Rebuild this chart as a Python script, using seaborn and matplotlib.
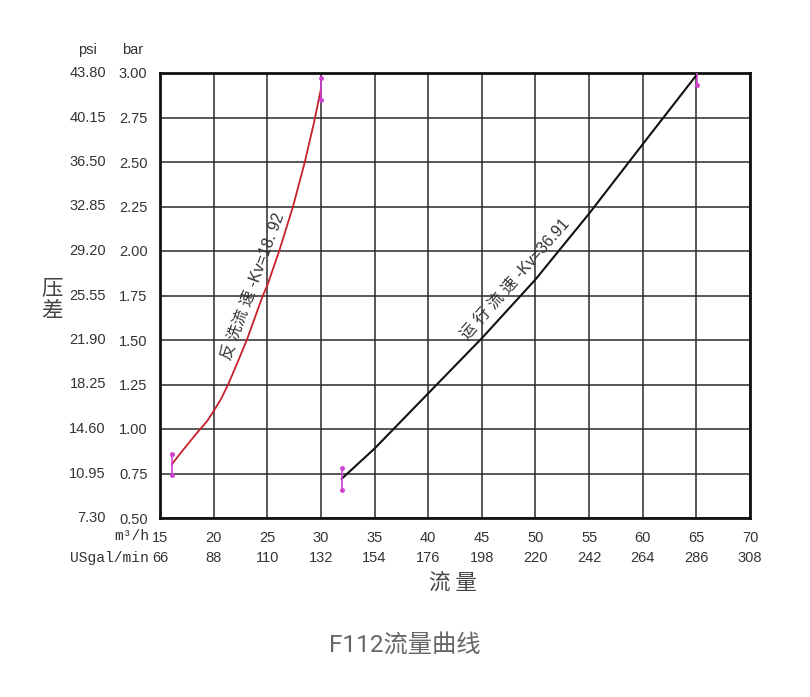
import matplotlib
matplotlib.use("Agg")
import matplotlib.pyplot as plt
import matplotlib.transforms as mtransforms
import pandas as pd
import seaborn as sns

# ── Data ──
flow_ticks = [15, 20, 25, 30, 35, 40, 45, 50, 55, 60, 65, 70]          # m³/h
usgal_labels = ["66", "88", "110", "132", "154", "176", "198", "220",
                "242", "264", "286", "308"]                             # USgal/min
bar_ticks = [0.50, 0.75, 1.00, 1.25, 1.50, 1.75, 2.00, 2.25, 2.50, 2.75, 3.00]
psi_labels = ["7.30", "10.95", "14.60", "18.25", "21.90", "25.55",
              "29.20", "32.85", "36.50", "40.15", "43.80"]

# backwash curve (Kv=18.92)
back_q = [16.08, 17.20, 18.47, 19.40, 20.00, 20.70, 21.35, 22.20, 23.09,
          24.59, 25.00, 26.11, 27.40, 28.50, 29.35, 30.00]
back_dp = [0.80, 0.886, 0.98, 1.045, 1.10, 1.17, 1.25, 1.37, 1.50,
           1.75, 1.806, 2.00, 2.25, 2.50, 2.72, 2.91]
# service curve (Kv=36.91)
run_q = [31.93, 35.00, 40.00, 45.00, 50.00, 55.00, 60.00, 65.03]
run_dp = [0.72, 0.89, 1.20, 1.51, 1.84, 2.21, 2.60, 2.99]

sns.set_style("white")
plt.rcParams["font.family"] = ["Liberation Sans", "Noto Sans CJK SC"]

W, H = 810, 697
fig = plt.figure(figsize=(W / 100, H / 100), dpi=100)
ax = fig.add_axes([160 / W, 1 - 518 / H, 590 / W, 445 / H])

df_back = pd.DataFrame({"q": back_q, "dp": back_dp})
df_run = pd.DataFrame({"q": run_q, "dp": run_dp})
sns.lineplot(data=df_back, x="q", y="dp", ax=ax, color="#c8202a", lw=1.3,
             estimator=None, sort=False, zorder=3)
sns.lineplot(data=df_run, x="q", y="dp", ax=ax, color="#111111", lw=1.5,
             estimator=None, sort=False, zorder=3)

# magenta end markers
ends = [(back_q[0], back_dp[0]), (back_q[-1], back_dp[-1]),
        (run_q[0], run_dp[0]), (run_q[-1], run_dp[-1])]
for q, dp in ends:
    ax.plot([q, q], [dp - 0.06, dp + 0.06], color="#d040d0", lw=1.2,
            marker=".", ms=5, zorder=4)

ax.set_xlim(flow_ticks[0], flow_ticks[-1])
ax.set_ylim(bar_ticks[0], bar_ticks[-1])
ax.set_xticks(flow_ticks)
ax.set_yticks(bar_ticks)
ax.set_xticklabels([str(v) for v in flow_ticks])
ax.set_yticklabels([f"{v:.2f}" for v in bar_ticks])
ax.tick_params(axis="both", length=0, labelsize=10.5, labelcolor="#333333")
ax.tick_params(axis="y", pad=9)
ax.tick_params(axis="x", pad=9)
ax.set_xlabel("")
ax.set_ylabel("")
ax.grid(True, color="#2a2a2a", lw=1.1)
for sp in ax.spines.values():
    sp.set_visible(True)
    sp.set_color("#111111")
    sp.set_linewidth(2.0)

# psi column
ytrans = mtransforms.blended_transform_factory(fig.transFigure, ax.transData)
for v, lab in zip(bar_ticks, psi_labels):
    ax.text(106 / W, v, lab, transform=ytrans, ha="right", va="center",
            fontsize=10.5, color="#333333")
fig.text(87 / W, 1 - 50 / H, "psi", ha="center", va="center", fontsize=10.5, color="#333333")
fig.text(133 / W, 1 - 50 / H, "bar", ha="center", va="center", fontsize=10.5, color="#333333")

# USgal/min row
xtrans = mtransforms.blended_transform_factory(ax.transData, fig.transFigure)
for v, lab in zip(flow_ticks, usgal_labels):
    ax.text(v, 1 - 558 / H, lab, transform=xtrans, ha="center", va="center",
            fontsize=10.5, color="#333333")
fig.text(149 / W, 1 - 536 / H, "m³/h", ha="right", va="center", fontsize=10.5,
         color="#333333", family="Liberation Mono")
fig.text(149 / W, 1 - 558 / H, "USgal/min", ha="right", va="center", fontsize=10.5,
         color="#333333", family="Liberation Mono")

# curve labels
ax.text(23.6, 1.80, "反 洗流 速 -Kv=18. 92", rotation=69.5, ha="center", va="center",
        fontsize=11.5, color="#333333", rotation_mode="anchor")
ax.text(48.2, 1.84, "运 行 流 速 -Kv=36.91", rotation=48.5, ha="center", va="center",
        fontsize=11.5, color="#333333", rotation_mode="anchor")

# axis titles
fig.text(52 / W, 1 - 300 / H, "压\n差", ha="center", va="center", fontsize=15.5,
         color="#444444", linespacing=1.05, family="Noto Sans CJK SC")
fig.text(453 / W, 1 - 583 / H, "流 量", ha="center", va="center", fontsize=15.5,
         color="#444444", family="Noto Sans CJK SC")

fig.text(405 / W, 1 - 645 / H, "F112流量曲线", ha="center", va="center", fontsize=17.5,
         color="#666666", family=["Roboto", "Noto Sans CJK SC"])

fig.savefig("out.png", dpi=100, facecolor="white")
